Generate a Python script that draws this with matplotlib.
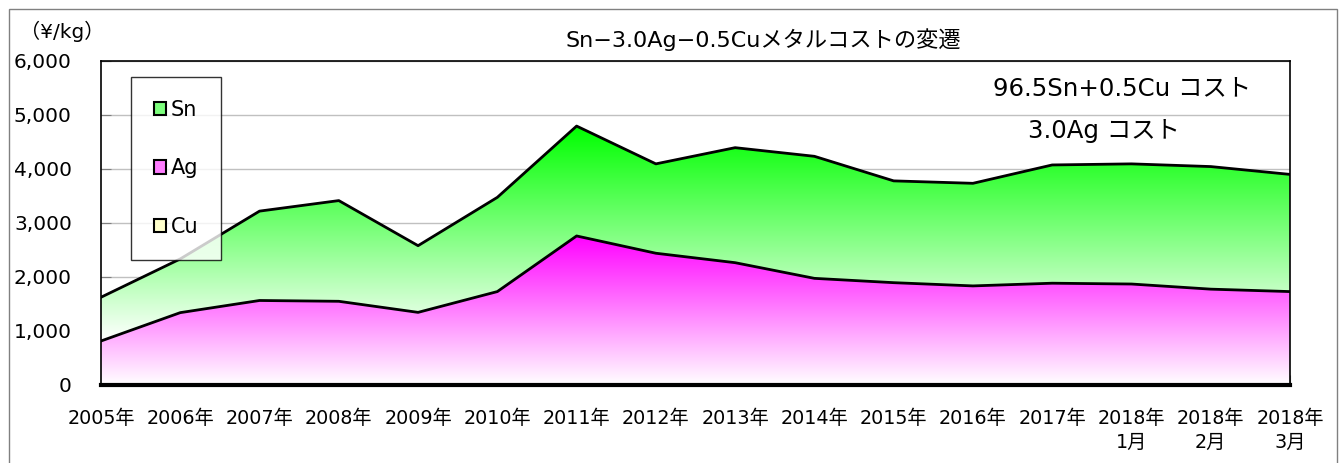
import numpy as np
import matplotlib.pyplot as plt
from matplotlib.patches import Patch, Rectangle
from matplotlib.colors import LinearSegmentedColormap

plt.rcParams['font.family'] = ['DejaVu Sans', 'Noto Sans CJK JP']

# data (yen/kg)
periods = ['2005年', '2006年', '2007年', '2008年', '2009年', '2010年', '2011年',
           '2012年', '2013年', '2014年', '2015年', '2016年', '2017年',
           '2018年\n1月', '2018年\n2月', '2018年\n3月']
ag_cost = [815, 1340, 1565, 1550, 1345, 1730, 2760, 2440, 2265, 1975, 1895,
           1835, 1885, 1870, 1775, 1730]
total_cost = [1625, 2335, 3220, 3415, 2580, 3475, 4795, 4095, 4395, 4235, 3780,
              3735, 4075, 4095, 4045, 3900]
yticks = [0, 1000, 2000, 3000, 4000, 5000, 6000]

x = np.arange(len(periods))
ag = np.array(ag_cost)
total = np.array(total_cost)

fig = plt.figure(figsize=(13.39, 4.63), dpi=100)
ax = fig.add_axes([101/1339, 1-385/463, 1189/1339, 324/463])

fig.patches.append(Rectangle((9/1339, -0.01), 1328/1339, 1-9/463+0.01,
                             transform=fig.transFigure, fill=False,
                             edgecolor='#808080', lw=1))


def gradient_fill(lower, upper, color, y0, y1):
    poly = ax.fill_between(x, lower, upper, facecolor='none', edgecolor='none')
    cmap = LinearSegmentedColormap.from_list('g', ['white', color])
    grad = np.linspace(0, 1, 256).reshape(-1, 1)
    im = ax.imshow(grad, cmap=cmap, origin='lower', aspect='auto',
                   extent=[x[0], x[-1], y0, y1], zorder=1, interpolation='bilinear')
    im.set_clip_path(poly.get_paths()[0], transform=ax.transData)


gradient_fill(0, ag, '#ff00ff', 0, ag.max())
gradient_fill(ag, total, '#00ff00', ag.min(), total.max())

ax.plot(x, ag, color='black', lw=2, zorder=3)
ax.plot(x, total, color='black', lw=2, zorder=3)

ax.set_xlim(x[0], x[-1])
ax.set_ylim(0, 6000)
ax.set_yticks(yticks)
ax.set_yticklabels([f'{v:,}' for v in yticks], fontsize=14.5)
ax.set_xticks(x)
ax.set_xticklabels(periods, fontsize=13.8, linespacing=1.35)
ax.tick_params(axis='both', direction='in', length=7, color='#808080')
ax.tick_params(axis='x', pad=17)
ax.tick_params(axis='y', pad=21)
ax.grid(axis='y', color='#c0c0c0', lw=1, zorder=0)
ax.set_axisbelow(True)
for s in ['left', 'right', 'top']:
    ax.spines[s].set_linewidth(1.2)
ax.spines['bottom'].set_linewidth(3)

handles = [Patch(facecolor='#7dff7d', edgecolor='black', lw=1.5),
           Patch(facecolor='#ff7dff', edgecolor='black', lw=1.5),
           Patch(facecolor='#ffffcc', edgecolor='black', lw=1.5)]
leg = ax.legend(handles, ['Sn', 'Ag', 'Cu'], loc='upper left',
                bbox_to_anchor=(30/1189, 1-16/324), fontsize=15,
                frameon=True, fancybox=False, edgecolor='black',
                handlelength=0.6, handleheight=0.6, handletextpad=0.2,
                labelspacing=1.85, borderpad=1.1, borderaxespad=0)
leg.get_frame().set_linewidth(1)
leg.set_zorder(5)

fig.text(20/1339, 1-31/463, '（¥/kg）', fontsize=14.5, va='center')
fig.text(763/1339, 1-40/463, 'Sn−3.0Ag−0.5Cuメタルコストの変遷', fontsize=16,
         ha='center', va='center')
fig.text(1122/1339, 1-88/463, '96.5Sn+0.5Cu コスト', fontsize=17.6,
         ha='center', va='center')
fig.text(1104/1339, 1-131/463, '3.0Ag コスト', fontsize=17.6,
         ha='center', va='center')

fig.savefig('out.png', dpi=100)
